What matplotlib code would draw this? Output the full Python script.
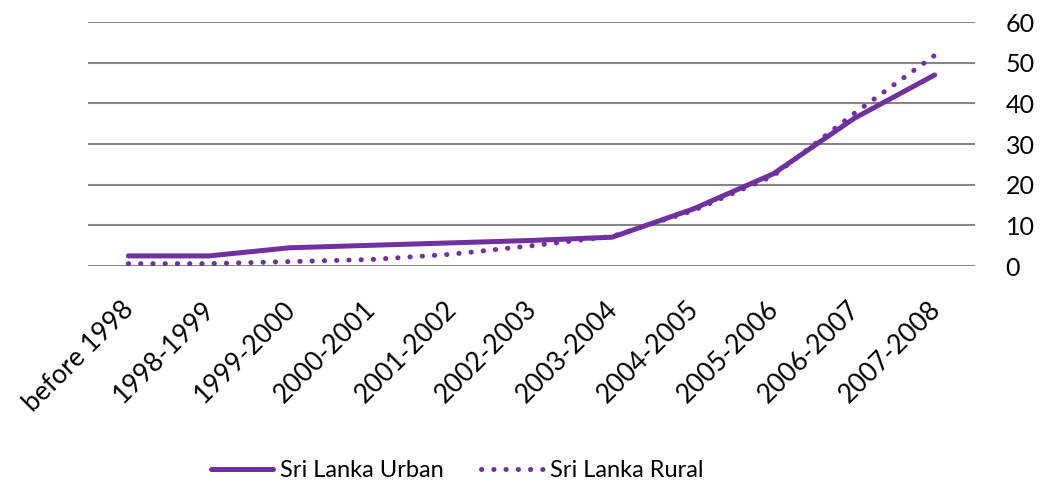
import matplotlib.pyplot as plt
from matplotlib.transforms import ScaledTranslation

categories = ["before 1998", "1998-1999", "1999-2000", "2000-2001", "2001-2002",
              "2002-2003", "2003-2004", "2004-2005", "2005-2006", "2006-2007", "2007-2008"]
urban = [2.5, 2.5, 4.5, 5.1, 5.7, 6.3, 7.1, 14.0, 22.7, 36.3, 47.0]
rural = [0.6, 0.6, 1.1, 1.6, 2.9, 5.0, 7.3, 13.6, 22.2, 37.5, 51.8]
yticks = [0, 10, 20, 30, 40, 50, 60]

purple = "#7030A0"
plt.rcParams['font.family'] = ['Lato', 'DejaVu Sans']

fig = plt.figure(figsize=(10.42, 4.9), dpi=100)
ax = fig.add_axes([0.0845, 0.457, 0.8512, 0.498])

x = list(range(len(categories)))
ax.plot(x, urban, color=purple, linewidth=3.6, solid_capstyle='round',
        label="Sri Lanka Urban", zorder=3)
ax.plot(x, rural, color=purple, linewidth=3.6, linestyle=(0, (0.05, 2.4)),
        dash_capstyle='round', label="Sri Lanka Rural", zorder=3)

ax.set_xlim(-0.5, len(categories) - 0.5)
ax.set_ylim(0, 60)
ax.set_yticks(yticks)
ax.yaxis.tick_right()
ax.grid(axis='y', color='#868686', linewidth=1.5)
ax.set_axisbelow(True)
for s in ax.spines.values():
    s.set_visible(False)
ax.tick_params(axis='both', length=0, labelsize=19, colors='black')
ax.tick_params(axis='y', labelsize=18, pad=22)
ax.set_xticks(x)
ax.set_xticklabels(categories, rotation=45, ha='right', rotation_mode='anchor')
ax.tick_params(axis='x', pad=22)
shift = ScaledTranslation(-7 / 100, 0, fig.dpi_scale_trans)
for lbl in ax.get_xticklabels():
    lbl.set_transform(lbl.get_transform() + shift)

fig.legend(loc='center', bbox_to_anchor=(0.439, 0.04), ncol=2, frameon=False,
           fontsize=17, handlelength=2.6, columnspacing=1.6, handletextpad=0.3)

fig.savefig("out.png", dpi=100)
